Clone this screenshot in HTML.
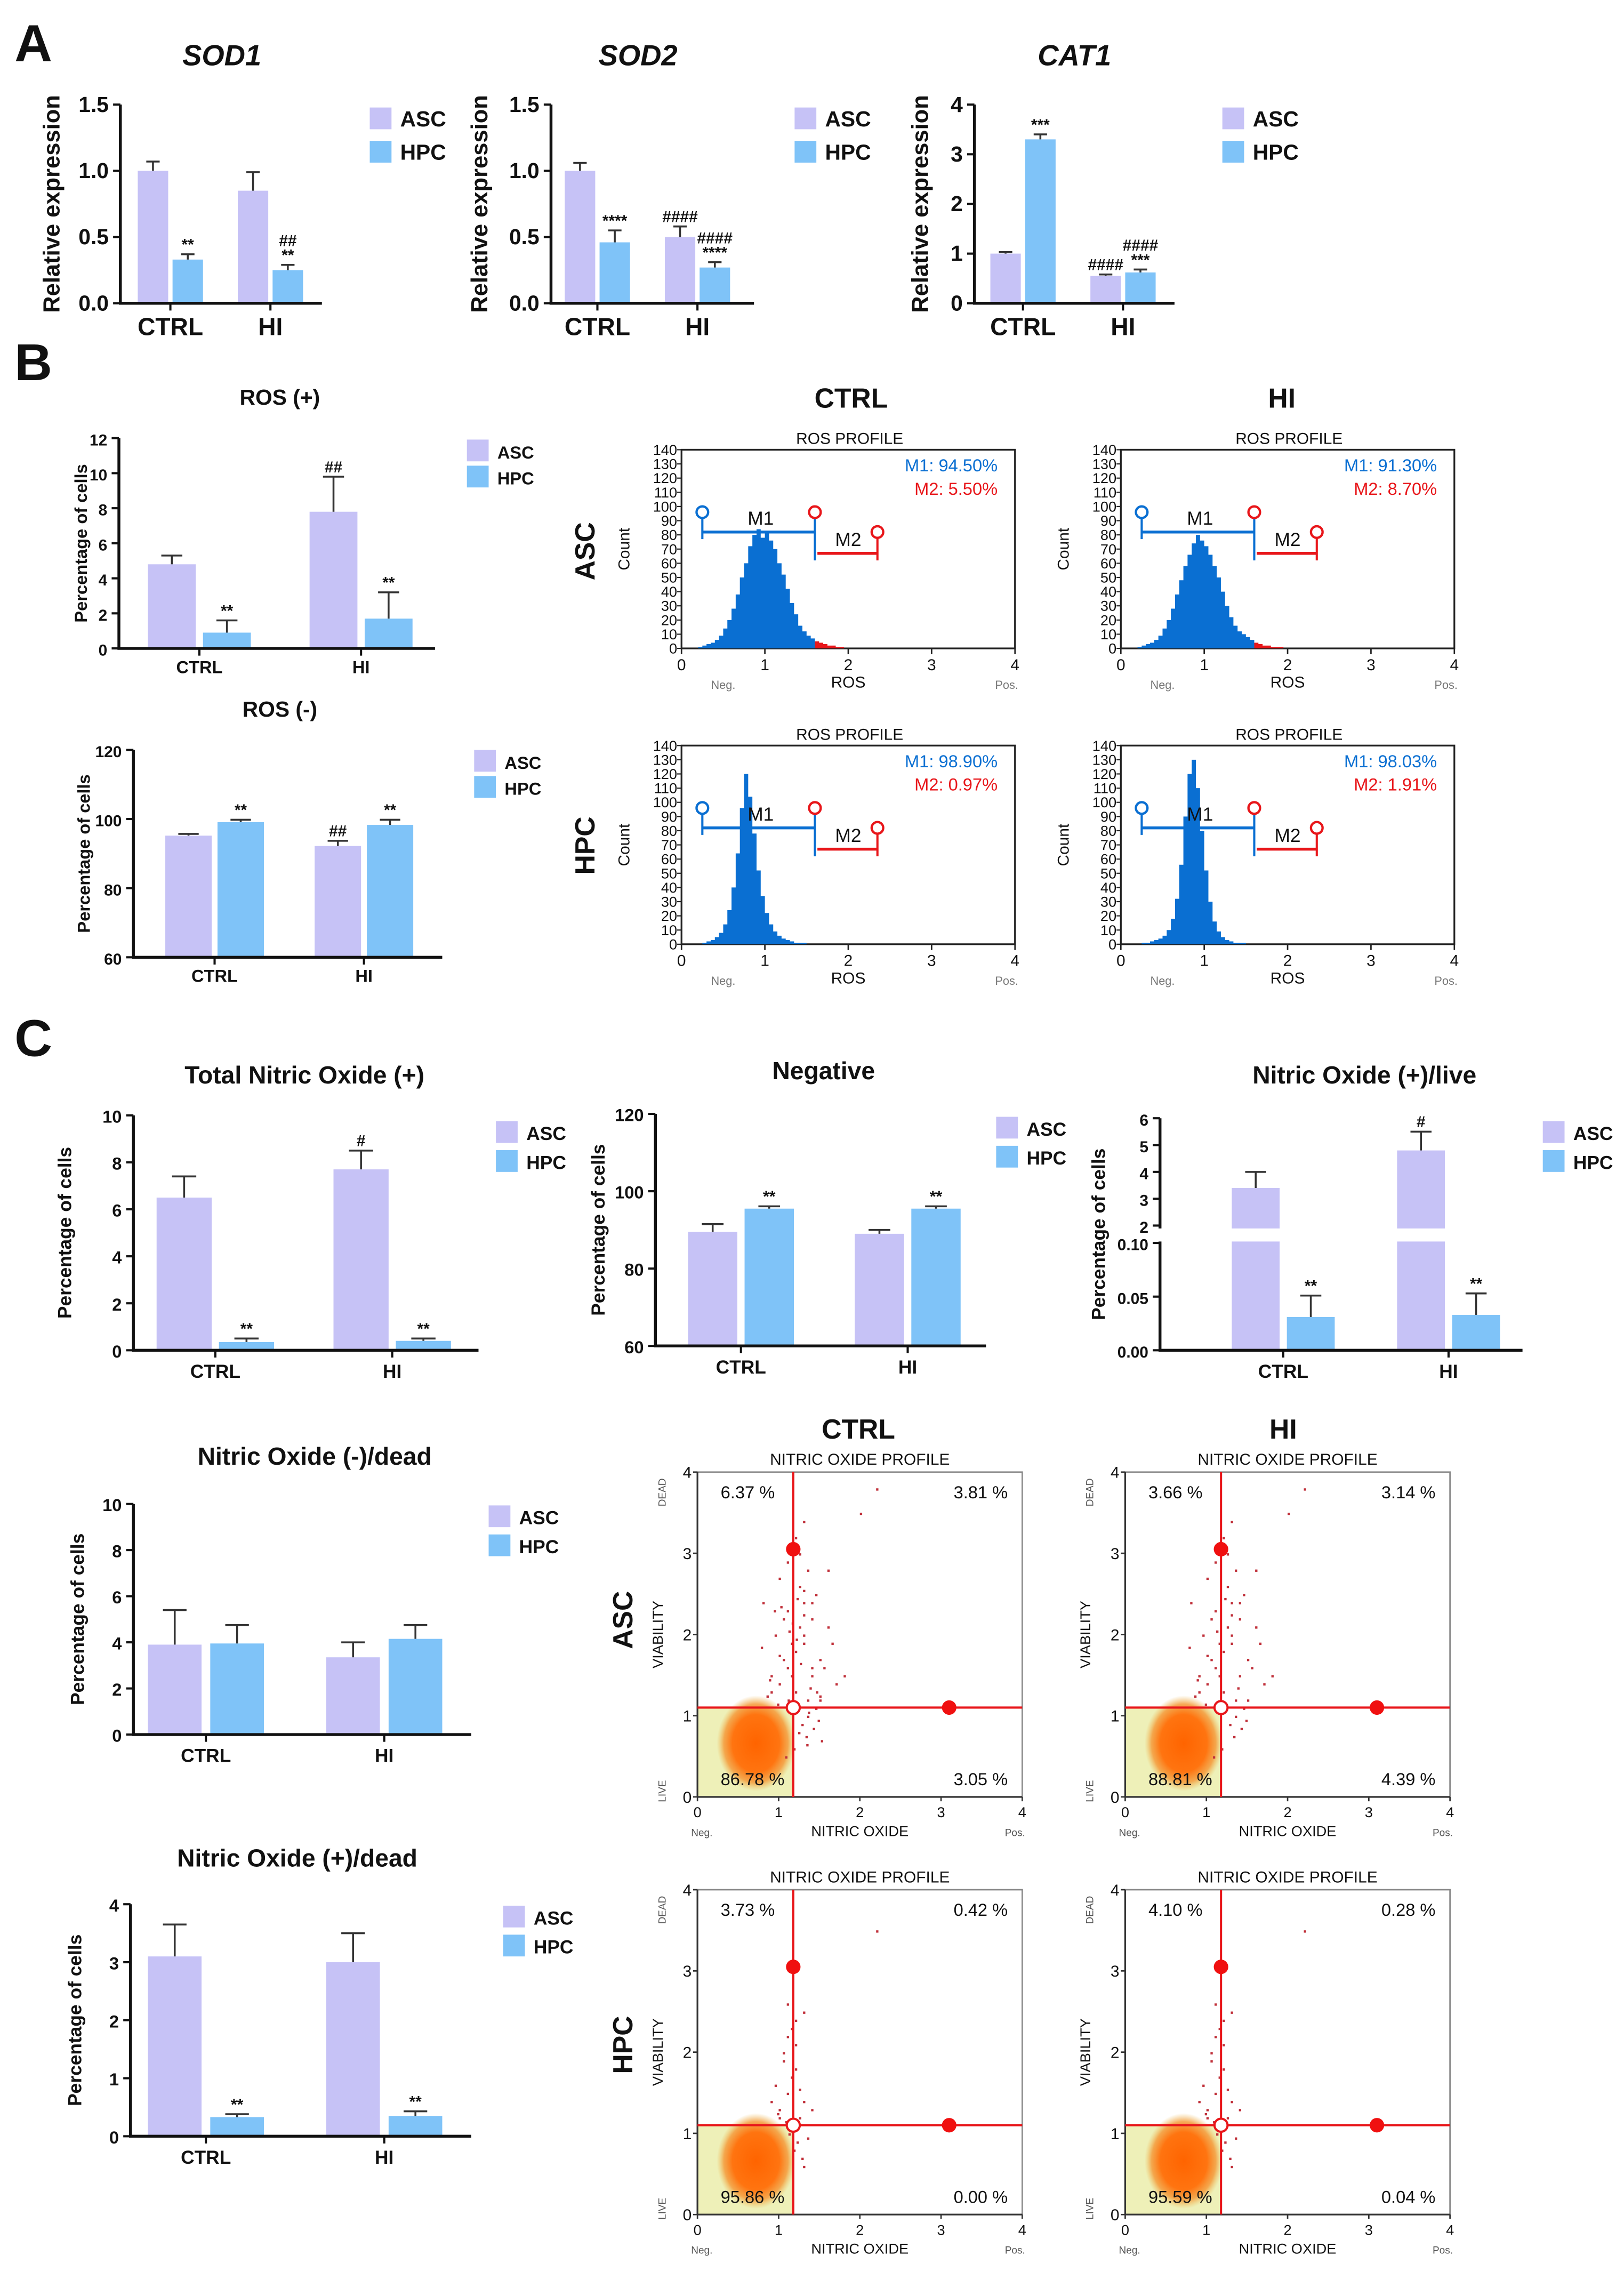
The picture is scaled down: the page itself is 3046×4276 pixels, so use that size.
<!DOCTYPE html>
<html><head><meta charset="utf-8"><style>
html,body{margin:0;padding:0;background:#fff}
svg{display:block}
text{font-family:"Liberation Sans",sans-serif}
</style></head><body>
<svg id="fig" xmlns="http://www.w3.org/2000/svg" width="3046" height="4276" viewBox="0 0 1120 1572">
<rect x="0" y="0" width="1120" height="1572" fill="#fff"/>
</svg>
<script>
// ---------- DATA ----------
const groups=['CTRL','HI'];
const sod1Vals=[1.0,0.33,0.85,0.25], sod1Err=[0.07,0.04,0.14,0.04], sod1Ann=['','**','','##|**'];
const sod2Vals=[1.0,0.46,0.5,0.27], sod2Err=[0.06,0.09,0.08,0.04], sod2Ann=['','****','####','####|****'];
const cat1Vals=[1.0,3.3,0.55,0.62], cat1Err=[0.03,0.1,0.03,0.06], cat1Ann=['','***','####','####|***'];
const rosPVals=[4.8,0.9,7.8,1.7], rosPErr=[0.5,0.7,2.0,1.5], rosPAnn=['','**','##','**'];
const rosNVals=[95.2,99.1,92.2,98.3], rosNErr=[0.5,0.7,1.5,1.5], rosNAnn=['','**','##','**'];
const tnoVals=[6.5,0.35,7.7,0.4], tnoErr=[0.9,0.15,0.8,0.1], tnoAnn=['','**','#','**'];
const negVals=[89.5,95.5,89.0,95.5], negErr=[2.0,0.6,1.0,0.6], negAnn=['','**','','**'];
const liveVals=[3.4,0.031,4.8,0.033], liveErr=[0.6,0.02,0.7,0.02], liveAnn=['','**','#','**'];
const ndVals=[3.9,3.95,3.35,4.15], ndErr=[1.5,0.8,0.65,0.6], ndAnn=['','','',''];
const pdVals=[3.1,0.33,3.0,0.35], pdErr=[0.55,0.05,0.5,0.08], pdAnn=['','**','','**'];
// histogram counts, bins from 0.2 step 0.05
const histStart=0.2, histStep=0.05;
const hCtrlAsc=[1,2,3,4,6,9,14,20,28,38,50,60,72,80,84,78,82,76,70,60,52,42,32,24,16,12,9,7,5,4,3,2,2,1,1,0];
const hHiAsc=[1,2,3,4,6,9,14,20,28,38,48,58,66,74,80,76,72,66,58,50,40,30,22,16,12,10,8,6,4,3,2,2,1,1,1,0];
const hCtrlHpc=[0,1,2,3,5,8,14,24,40,64,96,120,104,78,52,34,22,14,9,6,4,3,2,1,1,1,0,0,0,0,0,0];
const hHiHpc=[0,1,1,2,3,4,6,10,18,32,56,90,120,130,110,80,52,30,16,9,5,3,2,1,1,1,0,0,0,0,0,0];
const histM1=['M1: 94.50%','M1: 91.30%','M1: 98.90%','M1: 98.03%'];
const histM2=['M2: 5.50%','M2: 8.70%','M2: 0.97%','M2: 1.91%'];
// scatter
const quads=[['6.37 %','3.81 %','86.78 %','3.05 %'],['3.66 %','3.14 %','88.81 %','4.39 %'],['3.73 %','0.42 %','95.86 %','0.00 %'],['4.10 %','0.28 %','95.59 %','0.04 %']];
const ascDotX=[1.0,1.1,1.2,1.3,1.05,1.4,1.25,1.15,1.5,1.35,0.9,1.6,1.2,1.3,1.45,1.1,1.7,1.25,1.55,1.0,1.35,1.8,1.15,1.4,2.2,1.3,1.6,1.05,1.2,1.5,0.95,1.4,1.3,1.65,1.1,1.25,0.8,1.45,1.35,2.0,0.85,0.9,1.0,1.12,1.22,1.3,1.38,1.28,1.33,1.42,1.48,1.18,1.08,0.98,0.88,0.78,1.02,1.16,1.26,1.36,1.46,1.24,1.34,1.4,1.5,1.52,1.3,1.21,1.11,0.94];
const ascDotY=[1.4,1.6,1.8,2.0,2.2,2.4,2.6,1.5,1.7,2.8,1.3,2.1,3.2,1.9,2.5,2.3,1.4,3.0,1.6,2.7,1.2,1.5,1.9,2.2,3.8,3.4,2.8,1.7,1.3,1.2,2.0,1.5,2.4,1.9,2.9,2.1,2.4,1.1,1.0,3.5,1.25,1.5,1.75,2.05,2.45,2.25,1.35,0.9,0.75,0.85,0.95,0.6,0.5,1.15,1.45,1.85,2.35,2.15,1.65,1.05,1.3,0.8,0.65,1.6,1.25,0.7,2.55,1.95,1.2,2.3];
const hpcDotX=[1.0,1.1,1.2,1.05,1.15,0.95,1.3,1.1,1.0,1.2,1.25,1.15,0.9,1.4,1.05,1.1,1.3,2.2,1.22,1.18,1.12,1.28,1.08,1.35,1.25,0.98,1.3,1.2];
const hpcDotY=[1.3,1.5,1.8,2.0,2.3,1.6,1.4,2.6,1.2,2.1,1.2,1.7,1.4,1.3,1.9,2.2,2.5,3.5,0.9,0.8,1.0,0.7,1.15,0.95,1.55,1.25,0.6,2.4];

// ---------- HELPERS ----------
const NS='http://www.w3.org/2000/svg', svg=document.getElementById('fig');
const ASC='#c6c2f6', HPC='#7fc3f8';
function mk(tag,a,name,p){const e=document.createElementNS(NS,tag);for(const k in a)e.setAttribute(k,a[k]);


(p||svg).appendChild(e);return e;}
function tx(x,y,s,a,name,o){o=o||{};const e=mk('text',Object.assign({x:x,y:y,'font-size':a,'text-anchor':o.anchor||'middle','font-weight':o.bold===false?'normal':'bold',fill:o.fill||'#111'},o.style?{style:o.style}:{},o.rot?{transform:`rotate(-90 ${x} ${y})`}:{}),name);e.textContent=s;return e;}
function line(x1,y1,x2,y2,c,w,name){return mk('line',{x1,y1,x2,y2,stroke:c,'stroke-width':w},name);}

function barChart(o){
  const yf=o.yf||(v=>o.bot-(v-o.min)/(o.max-o.min)*(o.bot-o.top));
  tx(o.tx,o.ty,o.title,o.tfs||17,'chart-title',{style:o.italic?'font-style:italic':''});
  tx(o.ylx,(o.top+o.bot)/2,o.ylab,o.ylfs||14,'y-axis-title',{rot:true});
  o.vals.forEach((v,i)=>{
    const g=Math.floor(i/2),s=i%2,gc=o.gc[g];
    const x=s==0?gc-o.gap/2-o.bw:gc+o.gap/2, yv=yf(v);
    mk('rect',{x:x,y:yv,width:o.bw,height:o.bot-yv,fill:s?HPC:ASC},'bar-'+groups[g].toLowerCase()+'-'+(s?'hpc':'asc'));
    const cx=x+o.bw/2, ye=yf(v+o.errs[i]);
    line(cx,yv,cx,ye,'#333',1.3,'error-bar');
    line(cx-o.bw*0.22,ye,cx+o.bw*0.22,ye,'#333',1.3,'error-cap');
    const parts=o.anns[i]?o.anns[i].split('|'):[];
    parts.reverse().forEach((p,k)=>tx(cx,ye-3-k*10,p,11,'significance-label'));
  });
  if(o.gapY){mk('rect',{x:o.ax+1,y:o.gapY[0],width:o.xend-o.ax,height:o.gapY[1]-o.gapY[0],fill:'#fff'},'axis-break');}
  if(o.gapY){line(o.ax,o.top,o.ax,o.gapY[0],'#111',2,'y-axis');line(o.ax,o.gapY[1],o.ax,o.bot,'#111',2,'y-axis-lower');}
  else line(o.ax,o.top,o.ax,o.bot,'#111',2,'y-axis');
  line(o.ax-1,o.bot,o.xend,o.bot,'#111',2,'x-axis');
  o.ticks.forEach((t,i)=>{const y=yf(t);line(o.ax-5,y,o.ax,y,'#111',1.5,'y-tick');
    tx(o.ax-8,y+5,o.tickLabels?o.tickLabels[i]:String(t),o.tkfs||14,'y-tick-label',{anchor:'end'});});
  o.gc.forEach((gc,g)=>{line(gc,o.bot,gc,o.bot+5,'#111',1.5,'x-tick');tx(gc,o.bot+(o.lbdy||20),groups[g],o.xlfs||15,'x-tick-label');});
  [['ASC',ASC],['HPC',HPC]].forEach((L,k)=>{const ly=o.leg[1]+k*o.legdy;
    mk('rect',{x:o.leg[0],y:ly-8,width:15,height:15,fill:L[1]},'legend-swatch-'+L[0].toLowerCase());
    tx(o.leg[0]+21,ly+5,L[0],o.lgfs||15,'legend-label-'+L[0].toLowerCase(),{anchor:'start'});});
}

// ---------- PANEL A ----------
tx(10,42,'A',36,'panel-label-a',{anchor:'start'});
tx(10,262,'B',36,'panel-label-b',{anchor:'start'});
tx(10,728,'C',36,'panel-label-c',{anchor:'start'});
const A={top:72,bot:209,bw:21,gap:3,ylx:41,ylab:'Relative expression',ylfs:16,tfs:20,italic:true,tkfs:15,xlfs:17,lbdy:22,legdy:23};
barChart(Object.assign({},A,{ax:83,xend:222,min:0,max:1.5,ticks:[0,0.5,1,1.5],tickLabels:['0.0','0.5','1.0','1.5'],gc:[117.5,186.5],vals:sod1Vals,errs:sod1Err,anns:sod1Ann,title:'SOD1',tx:153,ty:45,leg:[255,82]}));
barChart(Object.assign({},A,{ax:380,xend:520,min:0,max:1.5,ticks:[0,0.5,1,1.5],tickLabels:['0.0','0.5','1.0','1.5'],gc:[412,481],vals:sod2Vals,errs:sod2Err,anns:sod2Ann,title:'SOD2',ylx:336,tx:440,ty:45,leg:[548,82]}));
barChart(Object.assign({},A,{ax:672,xend:810,min:0,max:4,ticks:[0,1,2,3,4],gc:[705.5,774.5],vals:cat1Vals,errs:cat1Err,anns:cat1Ann,title:'CAT1',ylx:640,tx:741,ty:45,leg:[843,82]}));

// ---------- PANEL B bars ----------
const Bc={bw:33,gap:5,ylab:'Percentage of cells',ylfs:12,tfs:15,tkfs:11,xlfs:12,lbdy:17,lgfs:12,legdy:18};
barChart(Object.assign({},Bc,{ax:82,xend:300,top:302,bot:447,min:0,max:12,ticks:[0,2,4,6,8,10,12],gc:[137.5,249],vals:rosPVals,errs:rosPErr,anns:rosPAnn,title:'ROS (+)',ylx:60,tx:193,ty:279,leg:[322,311]}));
barChart(Object.assign({},Bc,{ax:92,xend:305,top:517,bot:660,min:60,max:120,ticks:[60,80,100,120],gc:[148,251],bw:32,gap:4,vals:rosNVals,errs:rosNErr,anns:rosNAnn,title:'ROS (-)',ylx:62,tx:193,ty:494,leg:[327,525]}));

// ---------- HISTOGRAMS ----------
tx(587,281,'CTRL',19,'column-header-ctrl');
tx(884,281,'HI',19,'column-header-hi');
tx(410,380,'ASC',19,'row-label-asc',{rot:true});
tx(410,583,'HPC',19,'row-label-hpc',{rot:true});
function hist(ax,bot,data,idx){
  const top=bot-137,u=57.5,xs=v=>ax+v*u,ys=c=>bot-c*137/140;
  tx(ax+116,top-4,'ROS PROFILE',11,'histogram-title',{bold:false});
  mk('rect',{x:ax,y:top,width:4*u,height:137,fill:'none',stroke:'#222','stroke-width':1.2},'histogram-frame');
  const mkPoly=(from,to,col,name)=>{let pts=`${xs(Math.max(from,histStart))},${bot} `;
    data.forEach((c,i)=>{const x0=histStart+i*histStep,x1=x0+histStep;
      const a=Math.max(x0,from),b=Math.min(x1,to);if(b<=a)return;pts+=`${xs(a)},${ys(c)} ${xs(b)},${ys(c)} `;});
    pts+=`${xs(Math.min(to,histStart+data.length*histStep))},${bot}`;mk('polygon',{points:pts,fill:col},name);};
  mkPoly(0,1.6,'#0a6fd2','histogram-m1-area');
  mkPoly(1.6,4,'#e8161a','histogram-m2-area');
  for(let c=0;c<=140;c+=10){const y=ys(c);line(ax-3,y,ax,y,'#222',0.8,'y-tick');tx(ax-3,y+3.5,String(c),10,'y-tick-label',{anchor:'end',bold:false});}
  for(let v=0;v<=4;v++){line(xs(v),bot,xs(v),bot+4,'#222',1,'x-tick');tx(xs(v),bot+15,String(v),11,'x-tick-label',{bold:false});}
  tx(xs(0.5),bot+28,'Neg.',8,'neg-label',{bold:false,fill:'#777'});
  tx(xs(3.9),bot+28,'Pos.',8,'pos-label',{bold:false,fill:'#777'});
  tx(xs(2),bot+27,'ROS',11,'x-axis-title',{bold:false});
  tx(ax-36,(top+bot)/2,'Count',11,'y-axis-title',{bold:false,rot:true});
  tx(ax+218,top+15,histM1[idx],12,'m1-percentage',{anchor:'end',bold:false,fill:'#0a6fd2'});
  tx(ax+218,top+31,histM2[idx],12,'m2-percentage',{anchor:'end',bold:false,fill:'#e8161a'});
  const yM1=ys(82),yM2=ys(67),B='#0a6fd2',R='#e8161a';
  line(xs(0.25),yM1,xs(1.6),yM1,B,2,'m1-gate');
  line(xs(0.25),ys(94),xs(0.25),ys(77),B,1.5,'m1-gate-stem');
  line(xs(1.6),ys(94),xs(1.6),ys(62),B,1.5,'m1-gate-stem');
  mk('circle',{cx:xs(0.25),cy:ys(96),r:4,fill:'#fff',stroke:B,'stroke-width':1.6},'m1-gate-handle');
  mk('circle',{cx:xs(1.6),cy:ys(96),r:4,fill:'#fff',stroke:R,'stroke-width':1.6},'m1-gate-handle');
  line(xs(1.63),yM2,xs(2.35),yM2,R,2,'m2-gate');
  line(xs(2.35),ys(80),xs(2.35),ys(62),R,1.5,'m2-gate-stem');
  mk('circle',{cx:xs(2.35),cy:ys(82),r:4,fill:'#fff',stroke:R,'stroke-width':1.6},'m2-gate-handle');
  tx(xs(0.95),yM1-5,'M1',13,'m1-label',{bold:false});
  tx(xs(2.0),yM2-5,'M2',13,'m2-label',{bold:false});
}
hist(470,447,hCtrlAsc,0);hist(773,447,hHiAsc,1);hist(470,651,hCtrlHpc,2);hist(773,651,hHiHpc,3);

// ---------- PANEL C bars ----------
const Cc={ylab:'Percentage of cells',ylfs:13,tfs:17,tkfs:12,xlfs:13,lbdy:19,lgfs:13,legdy:20};
barChart(Object.assign({},Cc,{ax:92,xend:330,top:769,bot:931,min:0,max:10,ticks:[0,2,4,6,8,10],gc:[148.5,270.5],bw:38,gap:5,vals:tnoVals,errs:tnoErr,anns:tnoAnn,title:'Total Nitric Oxide (+)',ylx:49,tx:210,ty:747,leg:[342,781]}));
barChart(Object.assign({},Cc,{ax:452,xend:680,top:768,bot:928,min:60,max:120,ticks:[60,80,100,120],gc:[511,626],bw:34,gap:5,vals:negVals,errs:negErr,anns:negAnn,title:'Negative',ylx:417,tx:568,ty:744,leg:[687,778]}));
const yLive=v=>v>=2?845-(v-2)*18.5:931-v/0.1*74;
barChart(Object.assign({},Cc,{ax:800,xend:1050,top:771,bot:931,yf:yLive,gapY:[847,856],ticks:[0,0.05,0.1,2,3,4,5,6],tickLabels:['0.00','0.05','0.10','2','3','4','5','6'],gc:[885,999],bw:33,gap:5,vals:liveVals,errs:liveErr,anns:liveAnn,title:'Nitric Oxide (+)/live',ylx:762,tkfs:11,tx:941,ty:747,leg:[1064,781]}));
barChart(Object.assign({},Cc,{ax:92,xend:325,top:1037,bot:1196,min:0,max:10,ticks:[0,2,4,6,8,10],gc:[142,265],bw:37,gap:6,vals:ndVals,errs:ndErr,anns:ndAnn,title:'Nitric Oxide (-)/dead',ylx:58,tx:217,ty:1010,leg:[337,1046]}));
barChart(Object.assign({},Cc,{ax:90,xend:325,top:1313,bot:1473,min:0,max:4,ticks:[0,1,2,3,4],gc:[142,265],bw:37,gap:6,vals:pdVals,errs:pdErr,anns:pdAnn,title:'Nitric Oxide (+)/dead',ylx:56,tx:205,ty:1287,leg:[347,1322]}));

// ---------- SCATTER ----------
tx(592,992,'CTRL',19,'column-header-ctrl');
tx(885,992,'HI',19,'column-header-hi');
tx(436,1117,'ASC',19,'row-label-asc',{rot:true});
tx(436,1410,'HPC',19,'row-label-hpc',{rot:true});
const defs=mk('defs',{},'defs');
const rg=mk('radialGradient',{id:'cl'},'cluster-gradient',defs);
mk('stop',{offset:'0','stop-color':'#ff6400'},'stop',rg);mk('stop',{offset:'0.6','stop-color':'#ff7410'},'stop',rg);
mk('stop',{offset:'0.82','stop-color':'#f59a3a','stop-opacity':'0.85'},'stop',rg);mk('stop',{offset:'1','stop-color':'#eec060','stop-opacity':'0'},'stop',rg);
function scatter(ax,bot,q,dx,dy){
  const u=56,top=bot-224,xs=v=>ax+v*u,ys=v=>bot-v*u,vx=xs(1.18),hy=ys(1.1);
  tx(ax+112,top-5,'NITRIC OXIDE PROFILE',11,'scatter-title',{bold:false});
  mk('rect',{x:ax,y:hy,width:vx-ax,height:bot-hy,fill:'#eef0b8'},'live-quadrant-fill');
  mk('ellipse',{cx:xs(0.72),cy:ys(0.66),rx:27,ry:33,fill:'url(#cl)'},'cell-cluster');
  dx.forEach((x,i)=>mk('rect',{x:xs(x),y:ys(dy[i]),width:1.6,height:1.6,fill:'#c0303a'},'event-dot'));
  mk('rect',{x:ax,y:top,width:4*u,height:224,fill:'none',stroke:'#888','stroke-width':1},'scatter-frame');
  line(ax,top,ax,bot,'#333',1.2,'y-axis');line(ax,bot,ax+4*u,bot,'#333',1.2,'x-axis');
  line(vx,top,vx,bot,'#e8161a',1.5,'quadrant-vertical');
  line(ax,hy,ax+4*u,hy,'#e8161a',1.5,'quadrant-horizontal');
  mk('circle',{cx:vx,cy:ys(3.05),r:5,fill:'#f01010'},'quadrant-handle');
  mk('circle',{cx:xs(3.1),cy:hy,r:5,fill:'#f01010'},'quadrant-handle');
  mk('circle',{cx:vx,cy:hy,r:4.5,fill:'#fff',stroke:'#e8161a','stroke-width':1.5},'quadrant-center-handle');
  for(let v=0;v<=4;v++){tx(ax-4,ys(v)+4,String(v),11,'y-tick-label',{anchor:'end',bold:false});line(ax-3,ys(v),ax,ys(v),'#333',1,'y-tick');
    tx(xs(v),bot+14,String(v),10,'x-tick-label',{bold:false});line(xs(v),bot,xs(v),bot+3,'#333',1,'x-tick');}
  tx(ax+16,top+18,q[0],12,'quadrant-ul-percent',{bold:false,anchor:'start'});
  tx(ax+214,top+18,q[1],12,'quadrant-ur-percent',{bold:false,anchor:'end'});
  tx(ax+16,bot-8,q[2],12,'quadrant-ll-percent',{bold:false,anchor:'start'});
  tx(ax+214,bot-8,q[3],12,'quadrant-lr-percent',{bold:false,anchor:'end'});
  tx(ax-22,top+14,'DEAD',7,'dead-label',{bold:false,rot:true,fill:'#555'});
  tx(ax-22,bot-4,'LIVE',7,'live-label',{bold:false,rot:true,fill:'#555'});
  tx(ax-24,ys(2),'VIABILITY',10,'y-axis-title',{bold:false,rot:true});
  tx(ax+112,bot+27,'NITRIC OXIDE',10,'x-axis-title',{bold:false});
  tx(ax+3,bot+27,'Neg.',7,'neg-label',{bold:false,fill:'#555'});
  tx(ax+219,bot+27,'Pos.',7,'pos-label',{bold:false,fill:'#555'});
}
scatter(481,1239,quads[0],ascDotX,ascDotY);
scatter(776,1239,quads[1],ascDotX.slice(0,56),ascDotY.slice(0,56));
scatter(481,1527,quads[2],hpcDotX,hpcDotY);
scatter(776,1527,quads[3],hpcDotX,hpcDotY);
</script>
</body></html>
